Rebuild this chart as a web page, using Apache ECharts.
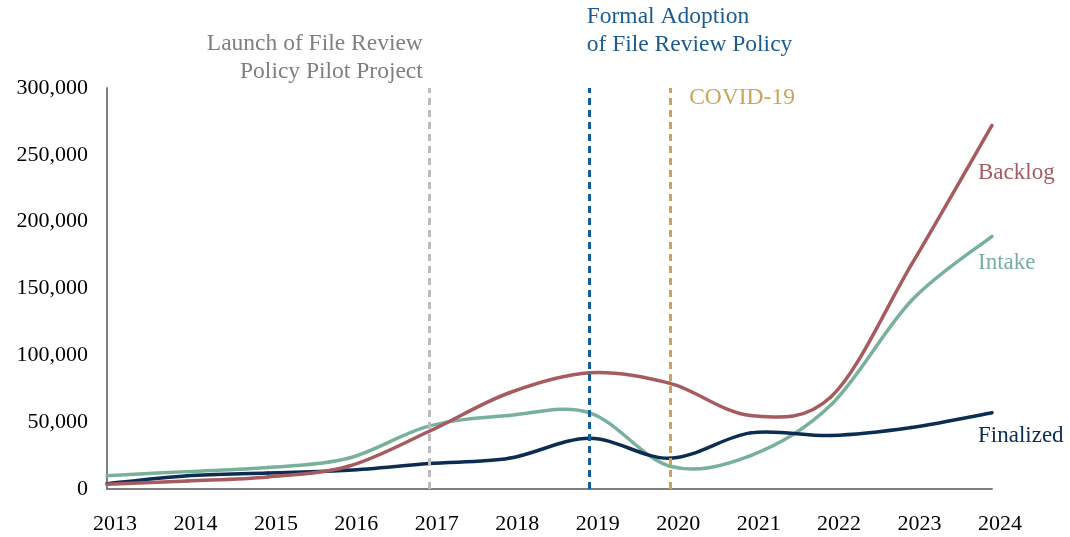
<!DOCTYPE html>
<html>
<head>
<meta charset="utf-8">
<script src="https://cdn.jsdelivr.net/npm/echarts@6/dist/echarts.min.js"></script>
<style>
  html, body { margin: 0; padding: 0; background: #fff; }
  #chart { width: 1070px; height: 537px; }
</style>
</head>
<body>
<div id="chart"></div>
<script>
// data
const years = ['2013', '2014', '2015', '2016', '2017', '2018', '2019', '2020', '2021', '2022', '2023', '2024'];
const backlog = [3500, 6000, 9000, 17000, 43000, 72000, 87000, 79000, 55000, 69000, 168000, 272000];
const intake = [10000, 13000, 16000, 23000, 47000, 55000, 57000, 17000, 25000, 63000, 141000, 189000];
const finalized = [4000, 10000, 12000, 14000, 19000, 23000, 38000, 23000, 42000, 40000, 46000, 57000];
const yTicks = [0, 50000, 100000, 150000, 200000, 250000, 300000];

// vertical markers
const events = [
  { year: '2017', text: 'Launch of File Review\nPolicy Pilot Project', color: '#bdbdbd', textColor: '#7f7f7f' },
  { year: '2019', text: 'Formal Adoption\nof File Review Policy', color: '#155d96', textColor: '#1c5b91' },
  { year: '2020', text: 'COVID-19', color: '#c8a55b', textColor: '#c8a55b' },
];

const FONT = '"Liberation Serif", "DejaVu Serif", serif';

const chart = echarts.init(document.getElementById('chart'));

// smoothed line like the office-style curve (catmull-rom through the points)
const smoothSeries = (name, values, color, labelOffset) => ({
  name,
  type: 'custom',
  data: values.map((v, k) => [k, v]),
  encode: { x: 0, y: 1 },
  z: 3,
  renderItem(params, api) {
    const i = params.dataIndex;
    const n = values.length;
    const pt = k => api.coord([Math.max(0, Math.min(n - 1, k)), values[Math.max(0, Math.min(n - 1, k))]]);
    if (i === n - 1) {
      const p = pt(i);
      return {
        type: 'text',
        x: p[0] + labelOffset[0],
        y: p[1] + labelOffset[1],
        style: { text: name, fill: color, font: '23px ' + FONT, verticalAlign: 'middle' },
      };
    }
    const p0 = pt(i - 1);
    const p1 = pt(i);
    const p2 = pt(i + 1);
    const p3 = pt(i + 2);
    return {
      type: 'bezierCurve',
      shape: {
        x1: p1[0], y1: p1[1],
        x2: p2[0], y2: p2[1],
        cpx1: p1[0] + (p2[0] - p0[0]) / 6, cpy1: p1[1] + (p2[1] - p0[1]) / 6,
        cpx2: p2[0] - (p3[0] - p1[0]) / 6, cpy2: p2[1] - (p3[1] - p1[1]) / 6,
      },
      style: { stroke: color, lineWidth: 3.5, fill: null, lineCap: 'round' },
    };
  },
});

const option = {
  animation: false,
  grid: { left: 107, right: 78, top: 88, bottom: 48 },
  xAxis: {
    type: 'category',
    data: years,
    boundaryGap: false,
    axisLine: { lineStyle: { color: '#7f7f7f', width: 2 } },
    axisTick: { show: false },
    axisLabel: {
      color: '#000',
      fontFamily: FONT,
      fontSize: 22,
      margin: 24,
      padding: [0, 0, 0, 16],
    },
  },
  yAxis: {
    type: 'value',
    min: 0,
    max: yTicks[yTicks.length - 1],
    interval: yTicks[1] - yTicks[0],
    axisLine: { show: true, lineStyle: { color: '#7f7f7f', width: 2 } },
    axisTick: { show: false },
    splitLine: { show: false },
    axisLabel: {
      color: '#000',
      fontFamily: FONT,
      fontSize: 22,
      margin: 19,
      formatter: v => v.toLocaleString('en-US'),
    },
  },
  series: [
    smoothSeries('Intake', intake, '#79b09b', [-14, 27]),
    smoothSeries('Finalized', finalized, '#0d2c52', [-14, 23]),
    smoothSeries('Backlog', backlog, '#a65b61', [-14, 48]),
    {
      type: 'line',
      data: [],
      markLine: {
        silent: true,
        symbol: 'none',
        label: { show: false },
        data: events.map(e => ({
          xAxis: e.year,
          lineStyle: { color: e.color, width: 3, type: [7, 5] },
        })),
      },
      z: 2,
    },
  ],
};

chart.setOption(option);

// annotation texts placed from the data coordinates of each marker
const topY = chart.convertToPixel({ gridIndex: 0 }, [0, yTicks[yTicks.length - 1]])[1];
const place = [
  { dx: -6, y: topY - 58, align: 'right' },
  { dx: -3, y: topY - 85, align: 'left' },
  { dx: 19, y: topY - 4, align: 'left' },
];
chart.setOption({
  graphic: events.map((e, i) => {
    const x = chart.convertToPixel({ gridIndex: 0 }, [e.year, 0])[0];
    return {
      type: 'text',
      x: x + place[i].dx,
      y: place[i].y,
      style: {
        text: e.text,
        fill: e.textColor,
        font: '23.5px ' + FONT,
        align: place[i].align,
        lineHeight: 28,
      },
    };
  }),
});
</script>
</body>
</html>
